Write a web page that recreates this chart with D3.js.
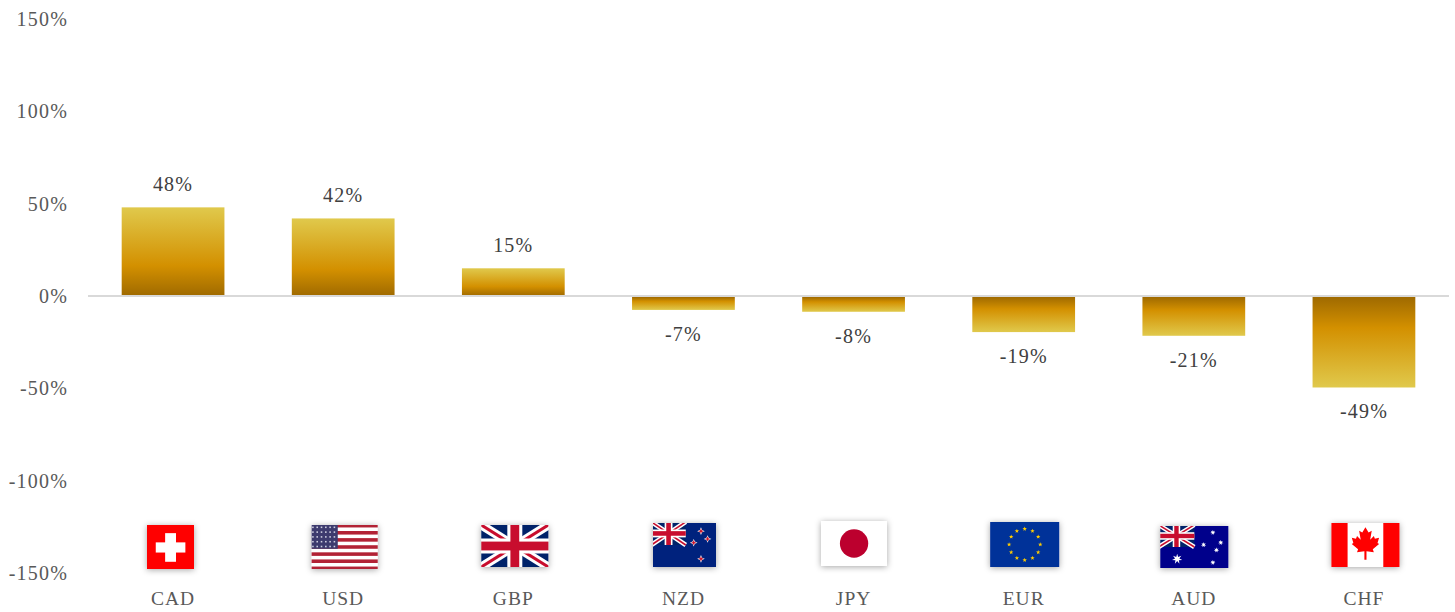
<!DOCTYPE html>
<html><head><meta charset="utf-8">
<script src="https://cdn.jsdelivr.net/npm/d3@7"></script>
<style>html,body{margin:0;padding:0;background:#fff;overflow:hidden}svg{display:block}
text{font-family:"Liberation Serif",serif}</style></head><body>
<svg id="c" width="1455" height="612"></svg>
<script>
const categories=["CAD","USD","GBP","NZD","JPY","EUR","AUD","CHF"];
const values=[48,42,15,-7,-8,-19,-21,-49];
const flagNames=["ch","us","gb","nz","jp","eu","au","ca"];
const yTicks=[-150,-100,-50,0,50,100,150];
// flag frame relative to the band centre: dx, top, width, height
const flagFrames={ch:[-26,525,47,44],us:[-31.5,525,66,44],gb:[-32,525,67,42],nz:[-30.5,523,63,44],jp:[-32.5,521,66,45],eu:[-33.5,522,69,45],au:[-33.5,526,68,42],ca:[-32.5,523,68,44]};

const svg=d3.select("#c");
const x=d3.scaleBand().domain(categories).range([88,1449]).paddingInner(0.396).paddingOuter(0.198);
const y=d3.scaleLinear().domain([-150,150]).range([573,19]);
const defs=svg.append("defs");
function grad(id,stops){const g=defs.append("linearGradient").attr("id",id).attr("x1",0).attr("y1",0).attr("x2",0).attr("y2",1);
 stops.forEach(s=>g.append("stop").attr("offset",s[0]).attr("stop-color",s[1]));}
grad("gp",[[0,"#e0c94c"],[0.66,"#d39000"],[1,"#9f6a00"]]);
grad("gn",[[0,"#9f6a00"],[0.34,"#d39000"],[1,"#e0c94c"]]);
const shadow=defs.append("filter").attr("id","sh").attr("x","-30%").attr("y","-30%").attr("width","160%").attr("height","160%");
shadow.append("feDropShadow").attr("dx",0).attr("dy",1).attr("stdDeviation",3).attr("flood-color","#000").attr("flood-opacity",0.35);
defs.append("filter").attr("id","soft").append("feGaussianBlur").attr("stdDeviation",0.65);

// y axis
const ya=svg.append("g").attr("transform","translate(68,0)").call(d3.axisLeft(y).tickValues(yTicks).tickSize(0).tickPadding(0).tickFormat(d=>d+"%"));
ya.select(".domain").remove();
ya.selectAll("text").attr("fill","#595959").style("font-size","20px").style("letter-spacing","1.2px").style("font-family","Liberation Serif");

// bars
svg.append("g").selectAll("rect").data(values).join("rect")
 .attr("x",(d,i)=>x(categories[i])).attr("width",x.bandwidth())
 .attr("y",d=>d>=0?y(d):y(0)+1).attr("height",d=>Math.abs(y(d)-y(0)))
 .attr("fill",d=>d>=0?"url(#gp)":"url(#gn)");

// zero line
svg.append("line").attr("x1",88).attr("x2",1449).attr("y1",y(0)).attr("y2",y(0)).attr("stroke","#d9d9d9").attr("stroke-width",2);

// value labels
svg.append("g").selectAll("text").data(values).join("text")
 .attr("x",(d,i)=>x(categories[i])+x.bandwidth()/2)
 .attr("y",d=>d>=0?y(d)-16:y(d)+32)
 .attr("text-anchor","middle").attr("fill","#404040").style("font-size","20px").style("letter-spacing","1.2px")
 .text(d=>d+"%");

// category axis
const xa=svg.append("g").attr("transform","translate(0,591)").call(d3.axisBottom(x).tickSize(0).tickPadding(0));
xa.select(".domain").remove();
xa.selectAll("text").attr("fill","#595959").attr("dy","0.71em").style("font-size","19.5px").style("letter-spacing","1px").style("font-family","Liberation Serif");

// flags
function star(g,cx,cy,r,fill,n=5){const pts=[];for(let i=0;i<n*2;i++){const a=-Math.PI/2+i*Math.PI/n,q=i%2?r*0.42:r;pts.push([cx+q*Math.cos(a),cy+q*Math.sin(a)]);}
 g.append("polygon").attr("points",pts.join(" ")).attr("fill",fill);}
function rect(g,a,b,w,h,f){g.append("rect").attr("x",a).attr("y",b).attr("width",w).attr("height",h).attr("fill",f);}
function union(g,w,h){
 rect(g,0,0,w,h,"#012169");
 const l=(a,b,c,d,s,col)=>g.append("line").attr("x1",a).attr("y1",b).attr("x2",c).attr("y2",d).attr("stroke",col).attr("stroke-width",s);
 l(0,0,w,h,h*0.2,"#fff");l(w,0,0,h,h*0.2,"#fff");
 l(0,0,w,h,h*0.07,"#c8102e");l(w,0,0,h,h*0.07,"#c8102e");
 rect(g,w/2-h*0.17,0,h*0.34,h,"#fff");rect(g,0,h/2-h*0.17,w,h*0.34,"#fff");
 rect(g,w/2-h*0.1,0,h*0.2,h,"#c8102e");rect(g,0,h/2-h*0.1,w,h*0.2,"#c8102e");
}
const drawFlag={
 ch(g,w,h){rect(g,0,0,w,h,"#ff0000");rect(g,w*.2,h*.4,w*.6,h*.22,"#fff");rect(g,w*.39,h*.2,w*.22,h*.62,"#fff");},
 us(g,w,h){rect(g,0,0,w,h,"#fff");const s=h/13;d3.range(0,13,2).forEach(i=>rect(g,0,i*s,w,s,"#b22234"));
  rect(g,0,0,w*.4,s*7,"#3c3b6e");
  d3.range(5).forEach(r=>d3.range(6).forEach(c=>rect(g,2+c*w*.062,2.5+r*s*1.35,1.5,1.5,"#cfcfe0")));},
 gb(g,w,h){union(g,w,h);},
 nz(g,w,h){rect(g,0,0,w,h,"#00247d");const u=g.append("g");union(u,w*.52,h*.5);
  [[.75,.2],[.85,.37],[.64,.45],[.75,.8]].forEach(p=>{star(g,w*p[0],h*p[1],3.6,"#fff",4);star(g,w*p[0],h*p[1],2.5,"#cc142b",4);});},
 jp(g,w,h){rect(g,0,0,w,h,"#fff");g.append("circle").attr("cx",w/2).attr("cy",h/2).attr("r",h*.3).attr("fill","#bc002d");},
 eu(g,w,h){rect(g,0,0,w,h,"#003399");d3.range(12).forEach(i=>{const a=i*Math.PI/6;star(g,w/2+h*.33*Math.sin(a),h/2-h*.33*Math.cos(a),2.2,"#ffcc00");});},
 au(g,w,h){rect(g,0,0,w,h,"#00008b");const u=g.append("g");union(u,w*.5,h*.5);star(g,w*.26,h*.77,5,"#fff",7);
  [[.76,.17],[.63,.45],[.87,.4],[.81,.57],[.76,.85]].forEach(p=>star(g,w*p[0],h*p[1],2.6,"#fff",7));},
 ca(g,w,h){rect(g,0,0,w,h,"#fff");rect(g,0,0,w*.25,h,"#ff0000");rect(g,w*.75,0,w*.25,h,"#ff0000");
  const k=h/44,cx=w/2,cy=h*.5;
  const leaf=[[0,-17],[3,-12],[6,-13.5],[4.5,-5],[8,-8.5],[9,-6],[13,-7],[11.5,-2],[13,-1],[7,4],[8,7],[1,6],[1,14],[-1,14],[-1,6],[-8,7],[-7,4],[-13,-1],[-11.5,-2],[-13,-7],[-9,-6],[-8,-8.5],[-4.5,-5],[-6,-13.5],[-3,-12]];
  g.append("polygon").attr("points",leaf.map(p=>[cx+p[0]*k,cy+p[1]*k]).join(" ")).attr("fill","#ff0000");}
};
flagNames.forEach((name,i)=>{
 const f=flagFrames[name],cx=x(categories[i])+x.bandwidth()/2;
 defs.append("clipPath").attr("id","clip-"+name).append("rect").attr("width",f[2]).attr("height",f[3]);
 const outer=svg.append("g").attr("transform",`translate(${cx+f[0]},${f[1]})`).attr("filter","url(#sh)");
 const clipped=outer.append("g").attr("clip-path",`url(#clip-${name})`);
 const g=clipped.append("g").attr("filter","url(#soft)")
   .attr("transform",`translate(${f[2]/2},${f[3]/2}) scale(1.05) translate(${-f[2]/2},${-f[3]/2})`);
 drawFlag[name](g,f[2],f[3]);
});
</script></body></html>
